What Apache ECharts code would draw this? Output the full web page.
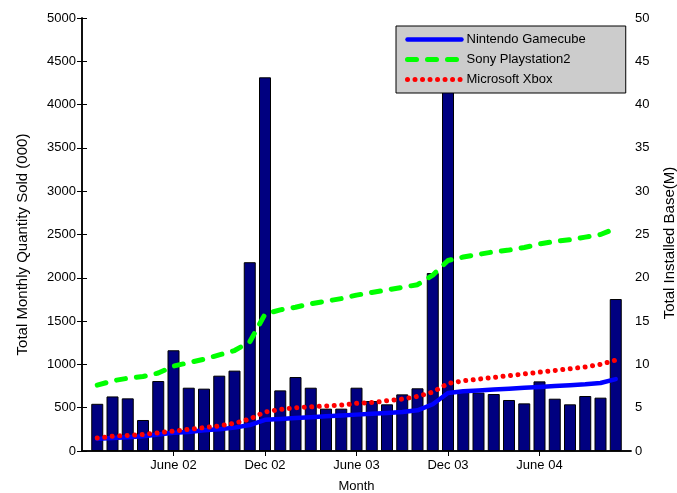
<!DOCTYPE html>
<html><head><meta charset="utf-8">
<script src="https://cdn.jsdelivr.net/npm/echarts@6/dist/echarts.min.js"></script>
<style>html,body{margin:0;padding:0;background:#fff}#c{width:677px;height:493px}</style>
</head><body><div id="c"></div>
<script>
var months = ['Jan 02','Feb 02','Mar 02','Apr 02','May 02','Jun 02','Jul 02','Aug 02','Sep 02','Oct 02','Nov 02','Dec 02',
  'Jan 03','Feb 03','Mar 03','Apr 03','May 03','Jun 03','Jul 03','Aug 03','Sep 03','Oct 03','Nov 03','Dec 03',
  'Jan 04','Feb 04','Mar 04','Apr 04','May 04','Jun 04','Jul 04','Aug 04','Sep 04','Oct 04','Nov 04'];
var monthlySold = [545,630,608,358,808,1163,731,720,870,928,2180,4315,
  700,854,731,489,489,731,577,539,654,724,2055,4650,
  680,674,658,589,550,804,604,539,635,616,1755];
var gamecube = [1.4,1.5,1.6,1.7,1.9,2.1,2.2,2.4,2.5,2.7,3.0,3.6,
  3.7,3.8,3.9,4.0,4.1,4.2,4.3,4.4,4.5,4.7,5.4,6.7,
  6.9,7.0,7.1,7.2,7.3,7.4,7.5,7.6,7.7,7.85,8.3];
var ps2 = [7.6,8.1,8.4,8.6,9.0,9.8,10.2,10.6,11.1,11.6,12.6,15.8,
  16.3,16.6,17.0,17.3,17.6,18.0,18.3,18.6,18.9,19.2,20.3,22.0,
  22.4,22.7,23.0,23.2,23.5,23.9,24.2,24.4,24.7,25.0,25.7];
var xbox = [1.5,1.7,1.8,1.9,2.1,2.3,2.5,2.7,2.9,3.2,3.7,4.5,
  4.8,5.0,5.1,5.2,5.3,5.5,5.6,5.8,6.0,6.3,6.8,7.8,
  8.1,8.3,8.5,8.7,8.9,9.1,9.3,9.5,9.7,10.0,10.5];
var xTickValues = [6,12,18,24,30];
var xTickLabels = ['June 02','Dec 02','June 03','Dec 03','June 04'];

function pairs(arr){ return arr.map(function(v,i){ return [i+1, v]; }); }
var FONT = 'Liberation Sans, Arial, sans-serif';
var axisLine = {show:true, lineStyle:{color:'#000', width:1.5}};
var tick = {show:true, inside:true, length:5, lineStyle:{color:'#000', width:1}};
var lbl = {color:'#000', fontSize:13, fontFamily:FONT, formatter:function(v){ return String(v); }};

var gcLine = {color:'#0000ff', width:4.5, type:'solid', cap:'round', join:'round'};
var psLine = {color:'#00ff00', width:5, type:[9,11], cap:'round', join:'round'};
var xbLine = {color:'#ff0000', width:5, type:[0.01,7.5], cap:'round', join:'round'};
var hiddenSym = {opacity:0, color:'rgba(0,0,0,0)', borderWidth:0};

var chart = echarts.init(document.getElementById('c'), null, {renderer:'canvas'});
chart.setOption({
  animation:false,
  backgroundColor:'#fff',
  grid:{left:82, right:46, top:18, bottom:42, containLabel:false, outerBoundsMode:'none'},
  legend:{
    orient:'vertical', left:396, top:26,
    data:[
      {name:'Nintendo Gamecube', lineStyle:gcLine, itemStyle:hiddenSym},
      {name:'Sony Playstation2', lineStyle:psLine, itemStyle:hiddenSym},
      {name:'Microsoft Xbox', lineStyle:xbLine, itemStyle:hiddenSym}
    ],
    itemStyle:hiddenSym,
    backgroundColor:'#cccccc', borderColor:'#000', borderWidth:1,
    padding:[7,40,7,9], itemWidth:54, itemHeight:14, itemGap:7,
    textStyle:{color:'#000', fontSize:13, fontFamily:FONT}
  },
  xAxis:[
    {type:'value', position:'bottom', min:0, max:36,
     axisLine:axisLine,
     axisTick:Object.assign({customValues:xTickValues}, tick),
     axisLabel:{customValues:xTickValues, margin:8, color:'#000', fontSize:13, fontFamily:FONT,
       formatter:function(v){ var k=xTickValues.indexOf(v); return k>=0?xTickLabels[k]:''; }},
     splitLine:{show:false},
     name:'Month', nameLocation:'middle', nameGap:29,
     nameTextStyle:{color:'#000', fontSize:13, fontFamily:FONT}},
    {type:'value', position:'top', min:0, max:36,
     axisLine:axisLine,
     axisTick:Object.assign({customValues:xTickValues}, tick),
     axisLabel:{show:false}, splitLine:{show:false}}
  ],
  yAxis:[
    {type:'value', position:'left', min:0, max:5000, interval:500,
     axisLine:axisLine, axisTick:tick,
     axisLabel:Object.assign({margin:6}, lbl), splitLine:{show:false},
     name:'Total Monthly Quantity Sold (000)', nameLocation:'middle', nameGap:52, nameRotate:90,
     nameTextStyle:{color:'#000', fontSize:15, fontFamily:FONT, padding:[0,20,0,0]}},
    {type:'value', position:'right', min:0, max:50, interval:5,
     axisLine:axisLine, axisTick:tick,
     axisLabel:Object.assign({margin:4}, lbl), splitLine:{show:false},
     name:'Total Installed Base(M)', nameLocation:'middle', nameGap:31, nameRotate:90,
     nameTextStyle:{color:'#000', fontSize:15, fontFamily:FONT, padding:[0,17,0,0]}}
  ],
  series:[
    {name:'Monthly Sold', type:'bar', xAxisIndex:0, yAxisIndex:0, data:pairs(monthlySold),
     barWidth:12, itemStyle:{color:'#000080', borderColor:'#000', borderWidth:1}, z:1},
    {name:'Nintendo Gamecube', type:'line', xAxisIndex:0, yAxisIndex:1, data:pairs(gamecube),
     symbol:'none', lineStyle:gcLine, itemStyle:{color:'#0000ff'}, z:3},
    {name:'Sony Playstation2', type:'line', xAxisIndex:0, yAxisIndex:1, data:pairs(ps2),
     symbol:'none', lineStyle:psLine, itemStyle:{color:'#00ff00'}, z:3},
    {name:'Microsoft Xbox', type:'line', xAxisIndex:0, yAxisIndex:1, data:pairs(xbox),
     symbol:'none', lineStyle:xbLine, itemStyle:{color:'#ff0000'}, z:4}
  ]
});
</script></body></html>
